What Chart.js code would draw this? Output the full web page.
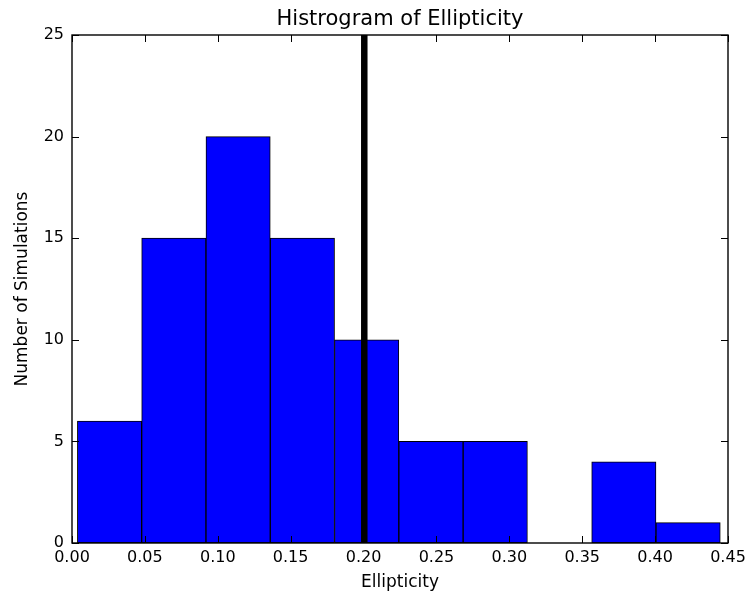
<!DOCTYPE html>
<html>
<head>
<meta charset="utf-8">
<title>Histrogram of Ellipticity</title>
<script src="https://cdn.jsdelivr.net/npm/chart.js@4.4.1/dist/chart.umd.min.js"></script>
<style>
  html, body { margin: 0; padding: 0; background: #ffffff; }
  #chart { display: block; }
</style>
</head>
<body>
<canvas id="chart" width="748" height="593"></canvas>
<script>
// Histogram bin edges (ellipticity) and the number of simulations in each bin
const binEdges = [0.0037, 0.0478, 0.0919, 0.1360, 0.1801, 0.2242, 0.2683, 0.3124, 0.3565, 0.4006, 0.4447];
const counts = [6, 15, 20, 15, 10, 5, 5, 0, 4, 1];

// Reference marker drawn as a vertical line
const markerValue = 0.2005;

// Axis ticks
const xTicks = [0.00, 0.05, 0.10, 0.15, 0.20, 0.25, 0.30, 0.35, 0.40, 0.45];
const yTicks = [0, 5, 10, 15, 20, 25];

const barPoints = counts.map((c, i) => ({ x: (binEdges[i] + binEdges[i + 1]) / 2, y: c }));

Chart.defaults.font.family = '"DejaVu Sans", sans-serif';
Chart.defaults.color = '#000000';

// Frame around the plot area with inward-pointing ticks on all four sides
const frameTicks = {
  id: 'frameTicks',
  afterDatasetsDraw(chart) {
    const { ctx, chartArea: a, scales } = chart;
    const len = 7;
    ctx.save();
    ctx.strokeStyle = '#000000';
    ctx.lineWidth = 1;
    ctx.beginPath();
    xTicks.forEach(v => {
      const px = Math.round(scales.x.getPixelForValue(v)) + 0.5;
      ctx.moveTo(px, a.bottom); ctx.lineTo(px, a.bottom - len);
      ctx.moveTo(px, a.top); ctx.lineTo(px, a.top + len);
    });
    yTicks.forEach(v => {
      const py = Math.round(scales.y.getPixelForValue(v)) + 0.5;
      ctx.moveTo(a.left, py); ctx.lineTo(a.left + len, py);
      ctx.moveTo(a.right, py); ctx.lineTo(a.right - len, py);
    });
    ctx.stroke();
    ctx.lineWidth = 1.4;
    ctx.strokeRect(a.left, a.top, a.right - a.left, a.bottom - a.top);
    ctx.restore();
  }
};

new Chart(document.getElementById('chart'), {
  type: 'bar',
  data: {
    datasets: [
      {
        type: 'line',
        data: [{ x: markerValue, y: yTicks[0] }, { x: markerValue, y: yTicks[yTicks.length - 1] }],
        borderColor: '#000000',
        borderWidth: 6.5,
        pointRadius: 0,
        fill: false,
        order: 0
      },
      {
        type: 'bar',
        data: barPoints,
        backgroundColor: '#0000ff',
        borderColor: '#000000',
        borderWidth: 1,
        borderSkipped: false,
        barPercentage: 1.0,
        categoryPercentage: 1.0,
        order: 1
      }
    ]
  },
  options: {
    responsive: false,
    animation: false,
    devicePixelRatio: 1,
    layout: { padding: { left: 0, right: 20, top: 0, bottom: 0 } },
    plugins: {
      legend: { display: false },
      tooltip: { enabled: false },
      title: {
        display: true,
        fullSize: false,
        text: 'Histrogram of Ellipticity',
        color: '#000000',
        font: { size: 21, weight: 'normal' },
        padding: { top: 6.8, bottom: 3 }
      }
    },
    scales: {
      x: {
        type: 'linear',
        min: 0,
        max: 0.45,
        offset: false,
        afterFit(scale) {
          scale.height = 50;
          scale.paddingLeft = 0;
          scale.paddingRight = 0;
        },
        afterBuildTicks(scale) { scale.ticks = xTicks.map(v => ({ value: v })); },
        grid: { display: false, drawTicks: false, offset: false },
        border: { display: false },
        ticks: {
          font: { size: 16 },
          padding: 5,
          maxRotation: 0,
          autoSkip: false,
          callback: v => Number(v).toFixed(2)
        },
        title: {
          display: true,
          text: 'Ellipticity',
          font: { size: 17 },
          padding: { top: 0, bottom: 0.5 }
        }
      },
      y: {
        type: 'linear',
        min: 0,
        max: 25,
        afterFit(scale) {
          scale.width = 72;
          scale.paddingTop = 0;
          scale.paddingBottom = 0;
        },
        afterBuildTicks(scale) { scale.ticks = yTicks.map(v => ({ value: v })); },
        grid: { display: false, drawTicks: false },
        border: { display: false },
        ticks: {
          font: { size: 16 },
          padding: 8,
          autoSkip: false,
          callback: v => String(v)
        },
        title: {
          display: true,
          text: 'Number of Simulations',
          font: { size: 17 },
          padding: { top: 12.3, bottom: 0 }
        }
      }
    }
  },
  plugins: [frameTicks]
});
</script>
</body>
</html>
